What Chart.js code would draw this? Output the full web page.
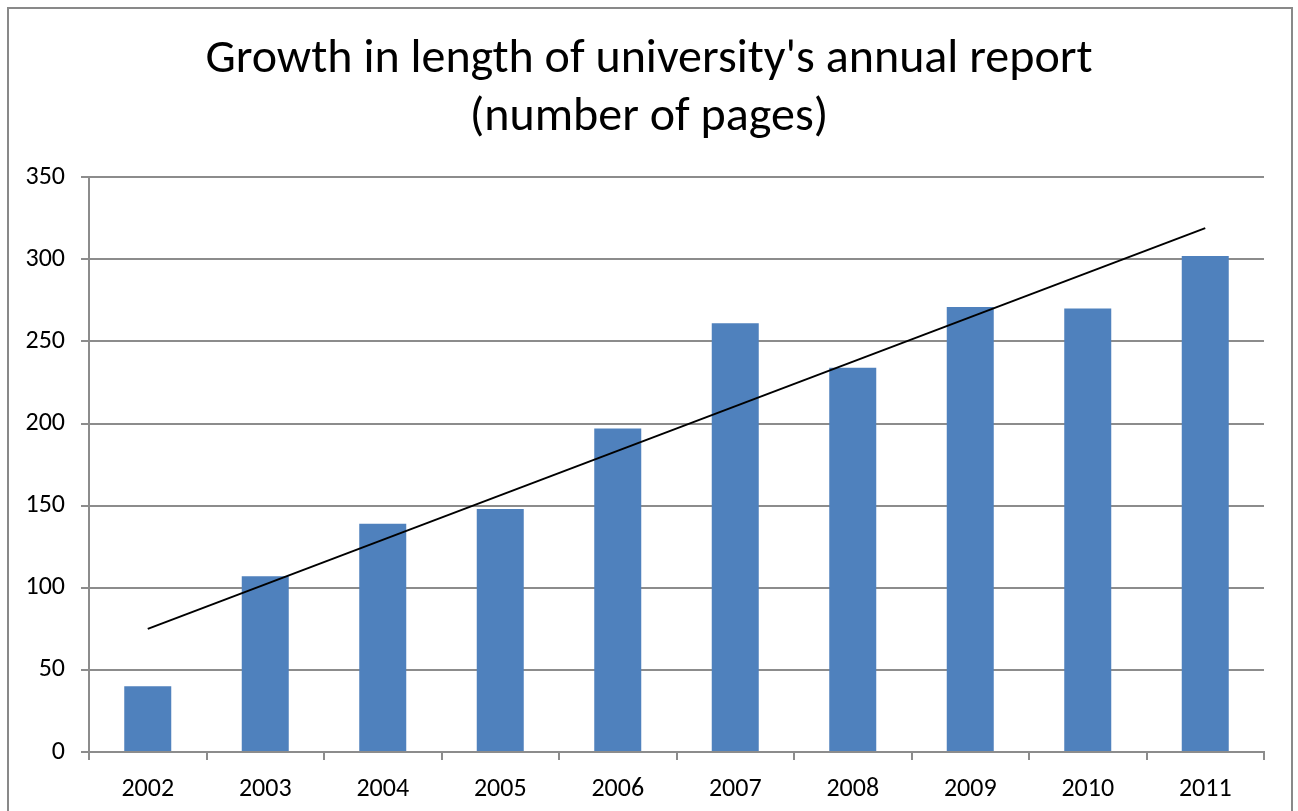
<!DOCTYPE html>
<html>
<head>
<meta charset="utf-8">
<script src="https://cdn.jsdelivr.net/npm/chart.js@4"></script>
<style>
    html, body { margin: 0; padding: 0; background: #fff; }
    #wrap { width: 1298px; height: 811px; position: relative; }
</style>
</head>
<body>
<div id="wrap"><canvas id="reportChart" width="1298" height="811"></canvas></div>
<script>
// values
const years = ['2002', '2003', '2004', '2005', '2006', '2007', '2008', '2009', '2010', '2011'];
const pages = [40, 107, 139, 148, 197, 261, 234, 271, 270, 302];
// linear trendline, only its two ends are drawn
const trend = [75, null, null, null, null, null, null, null, null, 319];
const yTicks = [0, 50, 100, 150, 200, 250, 300, 350];

const FONT = 'Carlito, Calibri, Lato, sans-serif';
const GRID = '#8c8c8c';

// outer frame round the whole chart, title centred on the whole canvas
const framePlugin = {
    id: 'frame',
    afterLayout(chart) {
        if (chart.titleBlock) {
            chart.titleBlock.left = 0;
            chart.titleBlock.right = chart.width;
        }
    },
    afterDraw(chart) {
        const ctx = chart.ctx;
        ctx.save();
        ctx.strokeStyle = '#898989';
        ctx.lineWidth = 2;
        ctx.strokeRect(8, 8, 1284, 820);
        ctx.restore();
    }
};

new Chart(document.getElementById('reportChart').getContext('2d'), {
    type: 'bar',
    data: {
        labels: years,
        datasets: [
            {
                type: 'line',
                data: trend,
                borderColor: '#000',
                borderWidth: 2,
                pointRadius: 0,
                spanGaps: true,
                fill: false,
                order: 0
            },
            {
                data: pages,
                backgroundColor: '#4F81BD',
                barPercentage: 0.4,
                categoryPercentage: 1,
                order: 1
            }
        ]
    },
    options: {
        responsive: false,
        animation: false,
        layout: { padding: { left: 0, right: 34, top: 0, bottom: 0 } },
        plugins: {
            legend: { display: false },
            tooltip: { enabled: false },
            title: {
                display: true,
                text: ["Growth in length of university's annual report", '(number of pages)'],
                color: '#000',
                font: { family: FONT, size: 48, weight: 'normal', lineHeight: 1.21 },
                padding: { top: 31, bottom: 30 }
            }
        },
        scales: {
            x: {
                grid: { drawOnChartArea: false, drawTicks: true, tickLength: 8, color: GRID, lineWidth: 2, offset: true },
                border: { display: true, color: GRID, width: 2 },
                ticks: { color: '#000', font: { family: FONT, size: 26 }, padding: 14, maxRotation: 0 },
                afterFit(scale) { scale.height = 59; }
            },
            y: {
                min: 0,
                max: 350,
                afterBuildTicks(scale) { scale.ticks = yTicks.map(v => ({ value: v })); },
                grid: { color: GRID, lineWidth: 2, tickLength: 8 },
                border: { display: true, color: GRID, width: 2 },
                ticks: { color: '#000', font: { family: FONT, size: 26 }, padding: 16 },
                afterFit(scale) { scale.width = 89; }
            }
        }
    },
    plugins: [framePlugin]
});
</script>
</body>
</html>
